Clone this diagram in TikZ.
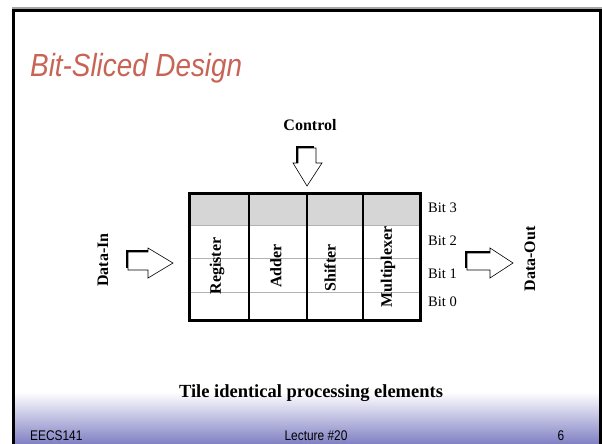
\documentclass[tikz,border=0pt]{standalone}
\usepackage{fontspec}
\setmainfont{Liberation Serif}
\newfontfamily\sansf{Liberation Sans}
\definecolor{titlered}{RGB}{200,100,85}
\definecolor{footblue}{RGB}{128,128,196}
\definecolor{cellgray}{RGB}{214,214,214}
\begin{document}
\begin{tikzpicture}[x=1pt,y=-1pt,
  lbl/.style={font=\bfseries\fontsize{16}{16}\selectfont, inner sep=0},
  bitlbl/.style={font=\fontsize{14.5}{15}\selectfont, anchor=west, inner sep=0},
  foot/.style={font=\sansf\fontsize{14}{14}\selectfont, inner sep=0},
  rowline/.style={gray!60, line width=0.9pt},
  colline/.style={line width=2.5pt},
  arrowbody/.style={fill=white, draw=black, line width=0.6pt, line join=miter},
  arrowshadow/.style={fill=black}]
\useasboundingbox (0,0) rectangle (602,444);
\fill[white] (0,0) rectangle (602,444);
% footer gradient
\shade[top color=white, bottom color=footblue] (14,392) rectangle (600,444);
% slide frame
\draw[gray!70, line width=1.2pt] (12,8) -- (602,8);
\draw[line width=3pt] (13.5,444) -- (13.5,11) -- (600,11) -- (600,444);
% title
\node[anchor=base west, text=titlered, inner sep=0] (title) at (30,76)
  {\scalebox{0.87}[1]{\sansf\itshape\fontsize{32}{32}\selectfont Bit-Sliced Design}};
% control
\node[lbl] (control) at (310,125) {Control};
\fill[arrowshadow] (295.5,145.5) rectangle (314,163);
\draw[arrowbody] (298,148) -- (316,148) -- (316,163) -- (322,163) -- (307,186) -- (293,163) -- (298,163) -- cycle;
% table
\fill[cellgray] (189,193) rectangle (420,225);
\draw[rowline] (189,225) -- (420,225);
\draw[rowline] (189,258) -- (420,258);
\draw[rowline] (189,292) -- (420,292);
\draw[colline] (249,193) -- (249,320);
\draw[line width=1.6pt] (307,193) -- (307,320);
\draw[colline] (363,193) -- (363,320);
\draw[line width=3pt] (189,193) rectangle (420,320);
\node[lbl, rotate=90] (reg) at (217,266) {Register};
\node[lbl, rotate=90] (add) at (276,266) {Adder};
\node[lbl, rotate=90] (shf) at (330,268) {Shifter};
\node[lbl, rotate=90] (mux) at (388,267) {Multiplexer};
\node[bitlbl] (b3) at (428,208) {Bit 3};
\node[bitlbl] (b2) at (428,241) {Bit 2};
\node[bitlbl] (b1) at (428,274) {Bit 1};
\node[bitlbl] (b0) at (428,302) {Bit 0};
% data in
\node[lbl, rotate=90] (din) at (103,260) {Data-In};
\fill[arrowshadow] (125.5,249.5) rectangle (148,267.5);
\draw[arrowbody] (128,252) -- (148,252) -- (148,248) -- (173,263) -- (148,278) -- (148,270) -- (128,270) -- cycle;
% data out
\node[lbl, rotate=90] (dout) at (530,259) {Data-Out};
\fill[arrowshadow] (464.5,250.5) rectangle (490,267.5);
\draw[arrowbody] (467,253) -- (490,253) -- (490,248) -- (513,263) -- (490,278) -- (490,270) -- (467,270) -- cycle;
% caption
\node[font=\bfseries\fontsize{18.5}{18.5}\selectfont, inner sep=0] (tile) at (311,393) {Tile identical processing elements};
% footer
\node[foot, anchor=west] (f1) at (30,436) {\scalebox{0.85}[1]{EECS141}};
\node[foot] (f2) at (316,436) {\scalebox{0.85}[1]{Lecture \#20}};
\node[foot] (f3) at (561,436) {\scalebox{0.85}[1]{6}};
\end{tikzpicture}
\end{document}
